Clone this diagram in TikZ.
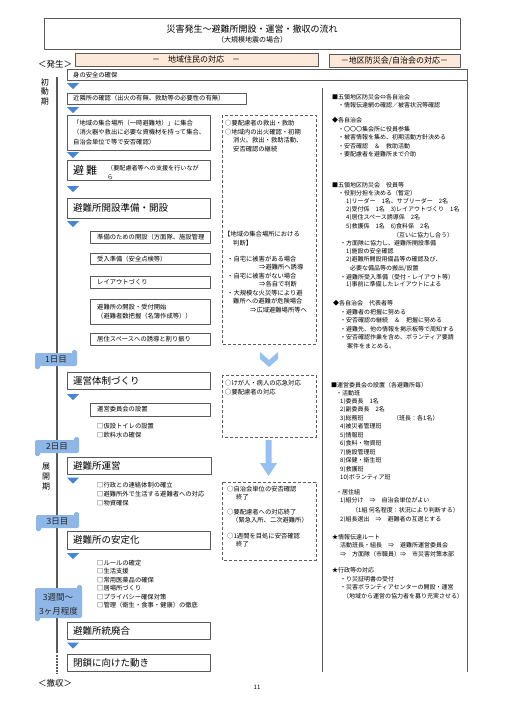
\documentclass[tikz,border=0pt]{standalone}
\usepackage{fontspec}
\setmainfont{Noto Sans CJK JP}
\definecolor{tri}{RGB}{70,132,214}
\definecolor{tabblue}{RGB}{142,182,230}
\definecolor{peach}{RGB}{253,233,217}
\definecolor{frame}{RGB}{90,90,90}
\definecolor{pale}{RGB}{150,192,242}
\newcommand{\scroll}[4]{%
  \fill[tabblue, rounded corners=2pt] (#1,#2) rectangle (#3,#4);
  \fill[tabblue, rounded corners=1.5pt] (#3-5,#2-3) rectangle (#3,#2+3);
  \fill[tabblue, rounded corners=1.5pt] (#1,#4-3) rectangle (#1+5,#4+3);}
\begin{document}
\begin{tikzpicture}[x=1pt, y=-1pt, line join=round,
  box/.style={draw=frame, line width=0.9pt},
  dbox/.style={draw=frame, line width=0.9pt, dash pattern=on 3pt off 2pt},
  tx/.style={anchor=west, inner sep=0pt, font=\fontsize{6.3}{7}\selectfont},
  rtx/.style={anchor=west, inner sep=0pt, font=\fontsize{6}{7}\selectfont},
  big/.style={anchor=west, inner sep=0pt, font=\fontsize{9.5}{11}\selectfont},
  tabtx/.style={inner sep=0pt, font=\fontsize{8.5}{10}\selectfont, text=black!85},
  side/.style={inner sep=0pt, font=\fontsize{8}{9}\selectfont}]
  \useasboundingbox (0,0) rectangle (504,713);
  % titulo y cabeceras
  \draw[box] (44,18) rectangle (460,49);
  \node[inner sep=0pt, font=\fontsize{9}{10}\selectfont] (titulo) at (252,29) {災害発生～避難所開設・運営・撤収の流れ};
  \node[inner sep=0pt, font=\fontsize{7}{8}\selectfont] (subtitulo) at (252,40) {（大規模地震の場合）};
  \filldraw[fill=peach, draw=frame, line width=0.8pt] (75,53) rectangle (318,66);
  \node[inner sep=0pt, font=\fontsize{8}{9}\selectfont] (cabA) at (196,59.5) {－　地域住民の対応　－};
  \filldraw[fill=peach, draw=frame, line width=0.8pt] (329,54.5) rectangle (460,67);
  \node[inner sep=0pt, font=\fontsize{8}{9}\selectfont] (cabB) at (394.5,61) {－地区防災会/自治会の対応－};
  \node[side, font=\fontsize{8.5}{10}\selectfont] (hassei) at (55,64) {＜発生＞};
  \node[side, font=\fontsize{8.5}{10}\selectfont] (tesshu) at (55,683) {＜撤収＞};
  \node[inner sep=0pt, font=\fontsize{6}{7}\selectfont] (pagina) at (257,687) {11};
  % linea de tiempo
  \draw[frame, line width=1.4pt] (57,77) -- (57,653);
  \draw[frame, line width=1.4pt, dash pattern=on 1.5pt off 1.5pt] (57,655) -- (57,674);
  \node[side] (sho) at (45,82) {初};
  \node[side] (do) at (45,92) {動};
  \node[side] (ki1) at (45,102) {期};
  \node[side] (ten) at (46,467) {展};
  \node[side] (kai) at (46,477) {開};
  \node[side] (ki2) at (46,487) {期};
  % panel derecho
  \draw[frame, line width=1pt] (322,88) -- (322,672);
  \draw[frame, line width=1pt] (467,81) -- (467,672);
  % cajas de la izquierda
  \draw[box] (67,69) rectangle (467,80.5);
  \node[tx] (anzen) at (73,75) {身の安全の確保};
  \draw[box] (67,93) rectangle (246,104);
  \node[tx] (kinrin) at (73,98.5) {近隣所の確認（出火の有無、救助等の必要性の有無）};
  \draw[box] (67,115) rectangle (210,150);
  \node[tx] (shugo1) at (73,123) {「地域の集合場所（一時避難地）」に集合};
  \node[tx] (shugo2) at (73,132.5) {（消火器や救出に必要な資機材を持って集合、};
  \node[tx] (shugo3) at (73,142) {自治会単位で等で安否確認）};
  \draw[box] (67,160) rectangle (210,180);
  \node[anchor=west, inner sep=0pt, font=\fontsize{11}{12}\selectfont] (hinan) at (73,170) {避\,難};
  \node[tx, font=\fontsize{6.1}{7}\selectfont] (hinan2) at (107,168) {（要配慮者等への支援を行いなが};
  \node[tx, font=\fontsize{6.1}{7}\selectfont] (hinan3) at (107,177) {ら};
  \draw[box] (67,198) rectangle (210,218);
  \node[big] (kaisetsu) at (73,208) {避難所開設準備・開設};
  \draw[box] (90,231) rectangle (210,243);
  \node[tx] (k1) at (97,237) {準備のための開設（方面隊、施設管理};
  \draw[box] (90,253) rectangle (210,264.5);
  \node[tx] (k2) at (97,259) {受入準備（安全点検等）};
  \draw[box] (90,276) rectangle (210,288);
  \node[tx] (k3) at (97,282) {レイアウトづくり};
  \draw[box] (90,299) rectangle (210,324);
  \node[tx] (k4) at (97,307.5) {避難所の開設・受付開始};
  \node[tx] (k5) at (97,316.5) {（避難者数把握（名簿作成等））};
  \draw[box] (90,333) rectangle (210,345);
  \node[tx] (k6) at (97,339) {居住スペースへの誘導と割り振り};
  \draw[box] (67,372) rectangle (210,389);
  \node[big] (taisei) at (73,380.5) {運営体制づくり};
  \draw[box] (90,403) rectangle (210,416);
  \node[tx] (iinkai) at (97,409.5) {運営委員会の設置};
  \node[tx] (t1) at (97,426) {□仮設トイレの設置};
  \node[tx] (t2) at (97,435) {□飲料水の確保};
  \draw[box] (67,457) rectangle (211,474);
  \node[big] (unei) at (73,465.5) {避難所運営};
  \node[tx] (u1) at (97,485) {□行政との連絡体制の確立};
  \node[tx] (u2) at (97,494) {□避難所外で生活する避難者への対応};
  \node[tx] (u3) at (97,503) {□物資確保};
  \draw[box] (67,531) rectangle (210,549);
  \node[big] (antei) at (73,540) {避難所の安定化};
  \node[tx] (a1) at (97,563) {□ルールの確定};
  \node[tx] (a2) at (97,571.5) {□生活支援};
  \node[tx] (a3) at (97,580) {□常用医薬品の確保};
  \node[tx] (a4) at (97,588.5) {□居場所づくり};
  \node[tx] (a5) at (97,597) {□プライバシー確保対策};
  \node[tx] (a6) at (97,605.5) {□管理（衛生・食事・健康）の徹底};
  \draw[box] (67,622) rectangle (210,639);
  \node[big] (togo) at (73,630.5) {避難所統廃合};
  \draw[box] (67,654) rectangle (210,671);
  \node[big] (heisa) at (73,662.5) {閉鎖に向けた動き};
  % triangulos
  \foreach \y in {83,107,152,186,221,394,477.5,553,642.5}
    \fill[tri] (67,\y) -- (79,\y) -- (73,\y+6) -- cycle;
  % etiquetas de dias
  \scroll{35}{353}{77}{366}
  \node[tabtx] (dia1) at (56,359.5) {1日目};
  \scroll{35}{440}{79}{453}
  \node[tabtx] (dia2) at (57,446.5) {2日目};
  \scroll{36}{515}{79}{528}
  \node[tabtx] (dia3) at (57.5,521.5) {3日目};
  \scroll{35}{588}{82}{618}
  \node[tabtx] (sem1) at (58,597) {3週間～};
  \node[tabtx] (sem2) at (58.5,611) {3ヶ月程度};
  % cajas punteadas
  \draw[dbox] (222,115) rectangle (316,344);
  \node[tx] (d1) at (225,123) {○要配慮者の救出・救助};
  \node[tx] (d2) at (225,132) {○地域内の出火確認・初期};
  \node[tx] (d3) at (233,140.5) {消火、救出・救助活動、};
  \node[tx] (d4) at (233,149) {安否確認の継続};
  \node[tx] (d5) at (224,234) {【地域の集合場所における};
  \node[tx] (d6) at (233,243) {判断】};
  \node[tx] (d7) at (227,259) {・自宅に被害がある場合};
  \node[tx] (d8) at (259,267.5) {⇒避難所へ誘導};
  \node[tx] (d9) at (227,276) {・自宅に被害がない場合};
  \node[tx] (d10) at (259,284.5) {⇒各自で判断};
  \node[tx] (d11) at (227,293) {・大規模な火災等により避};
  \node[tx] (d12) at (233,301.5) {難所への避難が危険場合};
  \node[tx] (d13) at (250,310) {⇒広域避難場所等へ};
  \draw[dbox] (222,375) rectangle (316,437);
  \node[tx] (e1) at (225,383) {○けが人・病人の応急対応};
  \node[tx] (e2) at (225,392) {○要配慮者の対応};
  \draw[dbox] (222,482) rectangle (316,560);
  \node[tx] (f1) at (227,489) {○自治会単位の安否確認};
  \node[tx] (f2) at (236,497.5) {終了};
  \node[tx] (f3) at (227,512) {○要配慮者への対応終了};
  \node[tx] (f4) at (232,520.5) {（緊急入所、二次避難所）};
  \node[tx] (f5) at (227,536) {○1週間を目処に安否確認};
  \node[tx] (f6) at (236,544.5) {終了};
  % flechas azules
  \fill[pale] (260,352) -- (269,360) -- (278,352) -- (278,359) -- (269,367) -- (260,359) -- cycle;
  \fill[pale] (265.5,440) -- (271.5,440) -- (271.5,463) -- (277,463) -- (268.5,476) -- (260,463) -- (265.5,463) -- cycle;
  % texto del panel derecho
  \node[rtx] (r1) at (332,97) {■五領地区防災会⇔各自治会};
  \node[rtx] (r2) at (338,105.5) {・情報伝達網の確認／被害状況等確認};
  \node[rtx] (r3) at (332,120.5) {◆各自治会};
  \node[rtx] (r4) at (338,129) {・〇〇〇集会所に役員参集};
  \node[rtx] (r5) at (338,137.5) {・被害情報を集め、初期活動方針決める};
  \node[rtx] (r6) at (338,146) {・安否確認　＆　救助活動};
  \node[rtx] (r7) at (338,154.5) {・要配慮者を避難所まで介助};
  \node[rtx] (r8) at (332,185) {■五領地区防災会　役員等};
  \node[rtx] (r9) at (338,193.5) {・役割分担を決める（暫定）};
  \node[rtx] (r10) at (346,202) {1)リーダー　1名、サブリーダー　2名};
  \node[rtx] (r11) at (346,210) {2)受付係　1名　3)レイアウトづくり　1名};
  \node[rtx] (r12) at (346,218) {4)居住スペース誘導係　2名};
  \node[rtx] (r13) at (346,226.5) {5)救護係　1名　6)食料係　2名};
  \node[rtx] (r14) at (393,235) {（互いに協力し合う）};
  \node[rtx] (r15) at (340,243) {・方面隊に協力し、避難所開設準備};
  \node[rtx] (r16) at (346,251.5) {1)施設の安全確認};
  \node[rtx] (r17) at (346,260) {2)避難所開設用備品等の確認及び、};
  \node[rtx] (r18) at (350,268.5) {必要な備品等の搬出/設置};
  \node[rtx] (r19) at (340,277) {・避難所受入準備（受付・レイアウト等）};
  \node[rtx] (r20) at (346,285) {1)事前に準備したレイアウトによる};
  \node[rtx] (r21) at (333,303) {◆各自治会　代表者等};
  \node[rtx] (r22) at (340,312) {・避難者の把握に努める};
  \node[rtx] (r23) at (340,320.5) {・安否確認の継続　＆　把握に努める};
  \node[rtx] (r24) at (340,329) {・避難先、他の情報を掲示板等で周知する};
  \node[rtx] (r25) at (340,337.5) {・安否確認作業を含め、ボランティア要請};
  \node[rtx] (r26) at (347,346.5) {案件をまとめる。};
  \node[rtx] (s1) at (331,385) {■運営委員会の設置（各避難所毎）};
  \node[rtx] (s2) at (336,393) {・活動班};
  \node[rtx] (s3) at (340,401.5) {1)委員長　1名};
  \node[rtx] (s4) at (340,410) {2)副委員長　2名};
  \node[rtx] (s5) at (340,418.5) {3)総務班};
  \node[rtx] (s5b) at (393,418.5) {（班長：各1名）};
  \node[rtx] (s6) at (340,427) {4)被災者管理班};
  \node[rtx] (s7) at (340,435.5) {5)情報班};
  \node[rtx] (s8) at (340,444) {6)食料・物資班};
  \node[rtx] (s9) at (340,452.5) {7)施設管理班};
  \node[rtx] (s10) at (340,461) {8)保健・衛生班};
  \node[rtx] (s11) at (340,469.5) {9)救護班};
  \node[rtx] (s12) at (340,478) {10)ボランティア班};
  \node[rtx] (s13) at (336,492) {・居住組};
  \node[rtx] (s14) at (340,501) {1)組分け　⇒　自治会単位がよい};
  \node[rtx] (s15) at (352,510) {（1組 何名程度：状況により判断する）};
  \node[rtx] (s16) at (340,519.5) {2)組長選出　⇒　避難者の互選とする};
  \node[rtx] (s17) at (332,537) {★情報伝達ルート};
  \node[rtx] (s18) at (340,545.5) {活動班長・組長　⇒　避難所運営委員会};
  \node[rtx] (s19) at (340,554) {⇒　方面隊（市職員）⇒　市災害対策本部};
  \node[rtx] (s20) at (332,570.5) {★行政等の対応};
  \node[rtx] (s21) at (340,579) {・り災証明書の受付};
  \node[rtx] (s22) at (340,587.5) {・災害ボランティアセンターの開設・運営};
  \node[rtx] (s23) at (343,596) {（地域から運営の協力者を募り充実させる）};
\end{tikzpicture}
\end{document}
